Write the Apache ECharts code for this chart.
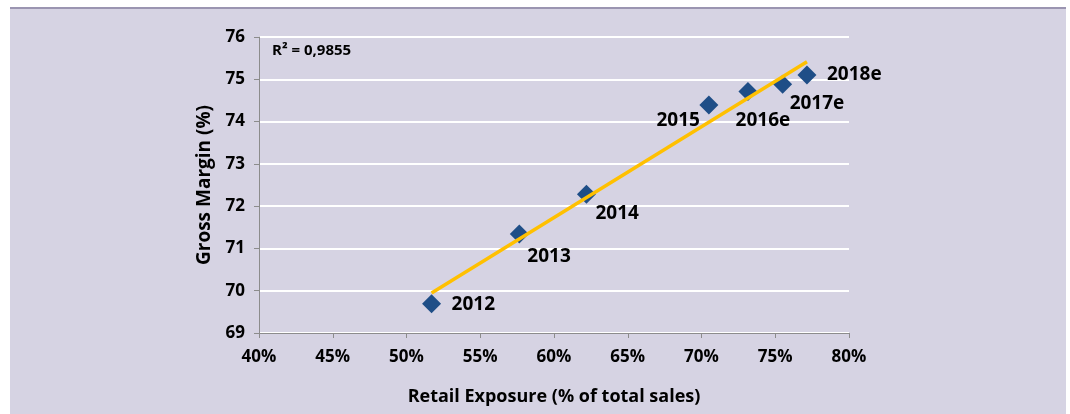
<!DOCTYPE html>
<html>
<head>
<meta charset="utf-8">
<script src="https://cdn.jsdelivr.net/npm/echarts@6/dist/echarts.min.js"></script>
<style>
  html, body { margin: 0; padding: 0; background: #ffffff; }
  #panel { position: absolute; left: 10px; top: 7px; width: 1056px; height: 407px;
           background: #d6d3e3; border-top: 2px solid #9b95b1; box-sizing: border-box; }
  #chart { position: absolute; left: 0; top: 0; width: 1070px; height: 414px; }
</style>
</head>
<body>
<div id="panel"></div>
<div id="chart"></div>
<script>
// Retail exposure (% of total sales) vs gross margin (%), by year
const years = ['2012', '2013', '2014', '2015', '2016e', '2017e', '2018e'];
const retailExposure = [51.7, 57.65, 62.2, 70.5, 73.15, 75.5, 77.15];
const grossMargin = [69.69, 71.34, 72.28, 74.39, 74.71, 74.88, 75.10];
const rSquaredLabel = 'R² = 0,9855';

// Where each year label sits relative to its marker: [align, dx, dy]
const labelPlacement = {
  '2012': ['left', 20, 1],
  '2013': ['left', 8, 23],
  '2014': ['left', 9, 19],
  '2015': ['right', -9, 16],
  '2016e': ['center', 15, 29],
  '2017e': ['left', 7, 19],
  '2018e': ['left', 20, 0]
};

// Least-squares linear trend across the points
function linearFit(xs, ys) {
  const n = xs.length;
  const mx = xs.reduce((a, b) => a + b, 0) / n;
  const my = ys.reduce((a, b) => a + b, 0) / n;
  let sxy = 0, sxx = 0;
  for (let i = 0; i < n; i++) {
    sxy += (xs[i] - mx) * (ys[i] - my);
    sxx += (xs[i] - mx) * (xs[i] - mx);
  }
  const slope = sxy / sxx;
  return x => my + slope * (x - mx);
}
const fit = linearFit(retailExposure, grossMargin);
const xMin = Math.min(...retailExposure);
const xMax = Math.max(...retailExposure);
const trend = [[xMin, fit(xMin)], [xMax, fit(xMax)]];

const FONT = '"Open Sans", "DejaVu Sans", sans-serif';
const INK = '#000000';

const points = years.map((y, i) => {
  const p = labelPlacement[y];
  return {
    name: y,
    value: [retailExposure[i], grossMargin[i]],
    label: { align: p[0], offset: [p[1], p[2]] }
  };
});

const chart = echarts.init(document.getElementById('chart'), null, { renderer: 'canvas' });
chart.setOption({
  backgroundColor: 'transparent',
  animation: false,
  grid: { left: 259, right: 221, top: 37, bottom: 81 },
  xAxis: {
    type: 'value', min: 40, max: 80, interval: 5,
    name: 'Retail Exposure (% of total sales)',
    nameLocation: 'middle', nameGap: 55,
    nameTextStyle: { fontFamily: FONT, fontWeight: 'bold', fontSize: 18, color: INK },
    axisLine: { show: true, lineStyle: { color: '#8c8c8c', width: 1 } },
    axisTick: { show: true, length: 5, lineStyle: { color: '#8c8c8c' } },
    axisLabel: { formatter: '{value}%', margin: 16, fontFamily: FONT, fontWeight: 'bold', fontSize: 17, color: INK },
    splitLine: { show: false }
  },
  yAxis: {
    type: 'value', min: 69, max: 76, interval: 1,
    name: 'Gross Margin (%)',
    nameLocation: 'middle', nameGap: 45, nameRotate: 90,
    nameTextStyle: { fontFamily: FONT, fontWeight: 'bold', fontSize: 19, color: INK },
    axisLine: { show: true, lineStyle: { color: '#8c8c8c', width: 1 } },
    axisTick: { show: true, length: 5, lineStyle: { color: '#8c8c8c' } },
    axisLabel: { margin: 14, fontFamily: FONT, fontWeight: 'bold', fontSize: 17, color: INK },
    splitLine: { show: true, lineStyle: { color: '#ffffff', width: 2 } }
  },
  graphic: [{
    type: 'text', left: 272, top: 43,
    style: { text: rSquaredLabel, font: 'bold 15px ' + FONT, fill: INK }
  }],
  series: [
    {
      type: 'scatter',
      symbol: 'diamond',
      symbolSize: [19, 19],
      itemStyle: { color: '#1f4e87', opacity: 1 },
      data: points,
      label: {
        show: true,
        position: 'inside',
        verticalAlign: 'middle',
        formatter: p => p.name,
        fontFamily: FONT, fontWeight: 'bold', fontSize: 19, color: INK
      },
      z: 2
    },
    {
      type: 'line',
      data: trend,
      showSymbol: false,
      symbol: 'none',
      lineStyle: { color: '#ffc000', width: 3.5 },
      silent: true,
      z: 3
    }
  ]
});
</script>
</body>
</html>
